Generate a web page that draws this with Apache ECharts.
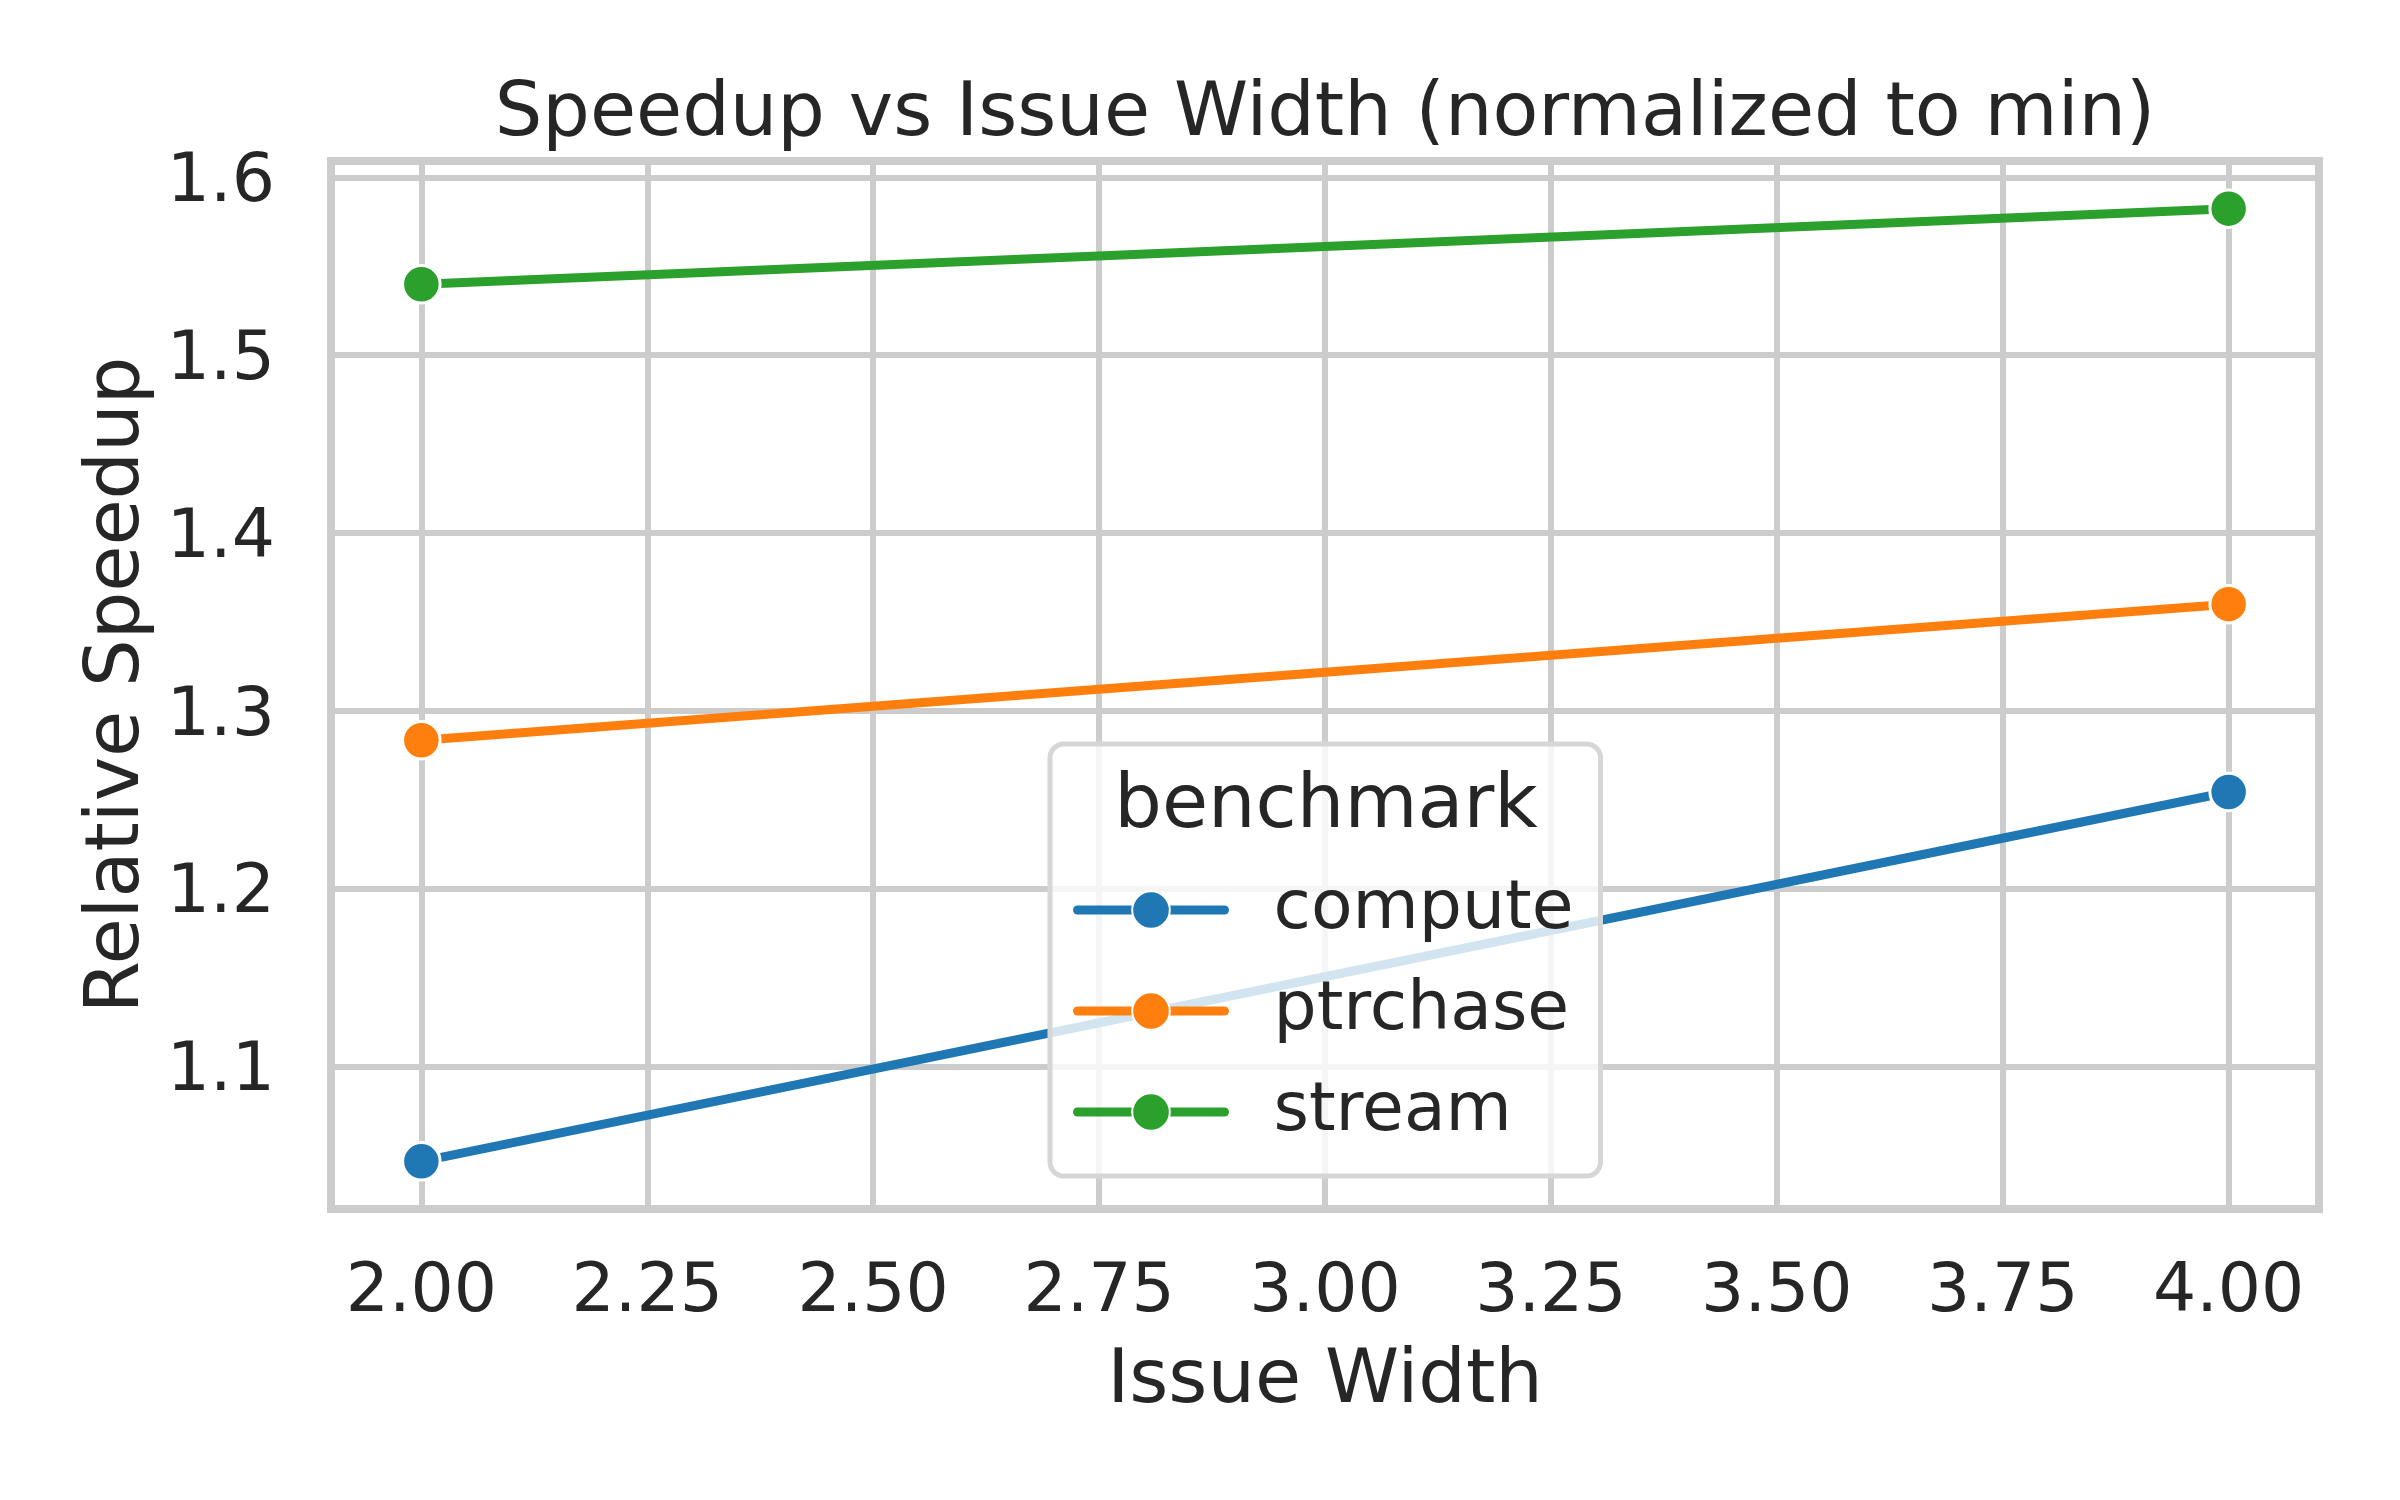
<!DOCTYPE html>
<html>
<head>
<meta charset="utf-8">
<script src="https://cdn.jsdelivr.net/npm/echarts@6/dist/echarts.min.js"></script>
<style>
  html, body { margin: 0; padding: 0; background: #ffffff; }
  #chart { width: 2400px; height: 1500px; }
</style>
</head>
<body>
<div id="chart"></div>
<script>
// ---- data ----
const issueWidth = [2, 4];
const compute = [1.0467, 1.2544];
const ptrchase = [1.2835, 1.3600];
const stream = [1.5399, 1.5824];
const seriesNames = ['compute', 'ptrchase', 'stream'];
const xTicks = [2, 2.25, 2.5, 2.75, 3, 3.25, 3.5, 3.75, 4];
const yTicks = [1.1, 1.2, 1.3, 1.4, 1.5, 1.6];

const colors = ['#1f77b4', '#ff7f0e', '#2ca02c'];
const FONT = 'DejaVu Sans';
const TXT = '#262626';

function pairs(xs, ys) { return xs.map((x, i) => [x, ys[i]]); }
const seriesValues = [compute, ptrchase, stream];

const chart = echarts.init(document.getElementById('chart'), null, { renderer: 'canvas' });

const option = {
  backgroundColor: '#ffffff',
  animation: false,
  title: [
    {
      text: 'Speedup vs Issue Width (normalized to min)',
      left: 1325, top: 78, textAlign: 'center', padding: 0,
      textStyle: { fontFamily: FONT, fontSize: 75, fontWeight: 'normal', color: TXT, lineHeight: 75 }
    },
    {
      text: 'benchmark',
      left: 1326, top: 770, textAlign: 'center', padding: 0, z: 10,
      textStyle: { fontFamily: FONT, fontSize: 75, fontWeight: 'normal', color: TXT, lineHeight: 75 }
    }
  ],
  grid: {
    left: 331, top: 161, width: 1988, height: 1048,
    show: true, borderColor: '#cccccc', borderWidth: 8, backgroundColor: 'transparent',
    containLabel: false
  },
  legend: {
    data: seriesNames,
    orient: 'vertical',
    left: 1050, top: 744,
    padding: [132, 27, 30, 23],
    itemGap: 33,
    itemWidth: 147, itemHeight: 47,
    backgroundColor: 'rgba(255,255,255,0.8)',
    borderColor: '#d6d6d6', borderWidth: 5, borderRadius: 14,
    lineStyle: { width: 9, cap: 'round' },
    textStyle: { fontFamily: FONT, fontSize: 68, color: TXT, lineHeight: 68, padding: [0, 0, 0, 44] },
    z: 8
  },
  xAxis: {
    type: 'value', min: 1.9, max: 4.1,
    name: 'Issue Width', nameLocation: 'middle', nameGap: 136,
    nameTextStyle: { fontFamily: FONT, fontSize: 75, color: TXT, lineHeight: 75 },
    axisLine: { show: false },
    axisTick: { show: false, customValues: xTicks },
    axisLabel: { customValues: xTicks, margin: 50, fontFamily: FONT, fontSize: 68, color: TXT, lineHeight: 68,
      formatter: v => v.toFixed(2) },
    splitLine: { show: true, lineStyle: { color: '#cccccc', width: 6 } }
  },
  yAxis: {
    type: 'value', min: 1.0199, max: 1.6092,
    name: 'Relative Speedup', nameLocation: 'middle', nameGap: 175,
    nameTextStyle: { fontFamily: FONT, fontSize: 75, color: TXT, lineHeight: 75 },
    axisLine: { show: false },
    axisTick: { show: false, customValues: yTicks },
    axisLabel: { customValues: yTicks, margin: 56, fontFamily: FONT, fontSize: 68, color: TXT, lineHeight: 68,
      formatter: v => '{t|' + v.toFixed(1) + '}',
      rich: { t: { fontFamily: FONT, fontSize: 68, color: TXT, lineHeight: 68, padding: [12, 0, 0, 0] } } },
    splitLine: { show: true, lineStyle: { color: '#cccccc', width: 6 } }
  },
  series: seriesNames.map((name, i) => ({
    name: name,
    type: 'line',
    data: pairs(issueWidth, seriesValues[i]),
    symbol: 'circle',
    symbolSize: 37.5,
    showSymbol: true,
    lineStyle: { color: colors[i], width: 9, cap: 'round' },
    itemStyle: { color: colors[i], borderColor: '#ffffff', borderWidth: 3 },
    emphasis: { disabled: true },
    z: 2 + i
  }))
};

chart.setOption(option);
</script>
</body>
</html>
